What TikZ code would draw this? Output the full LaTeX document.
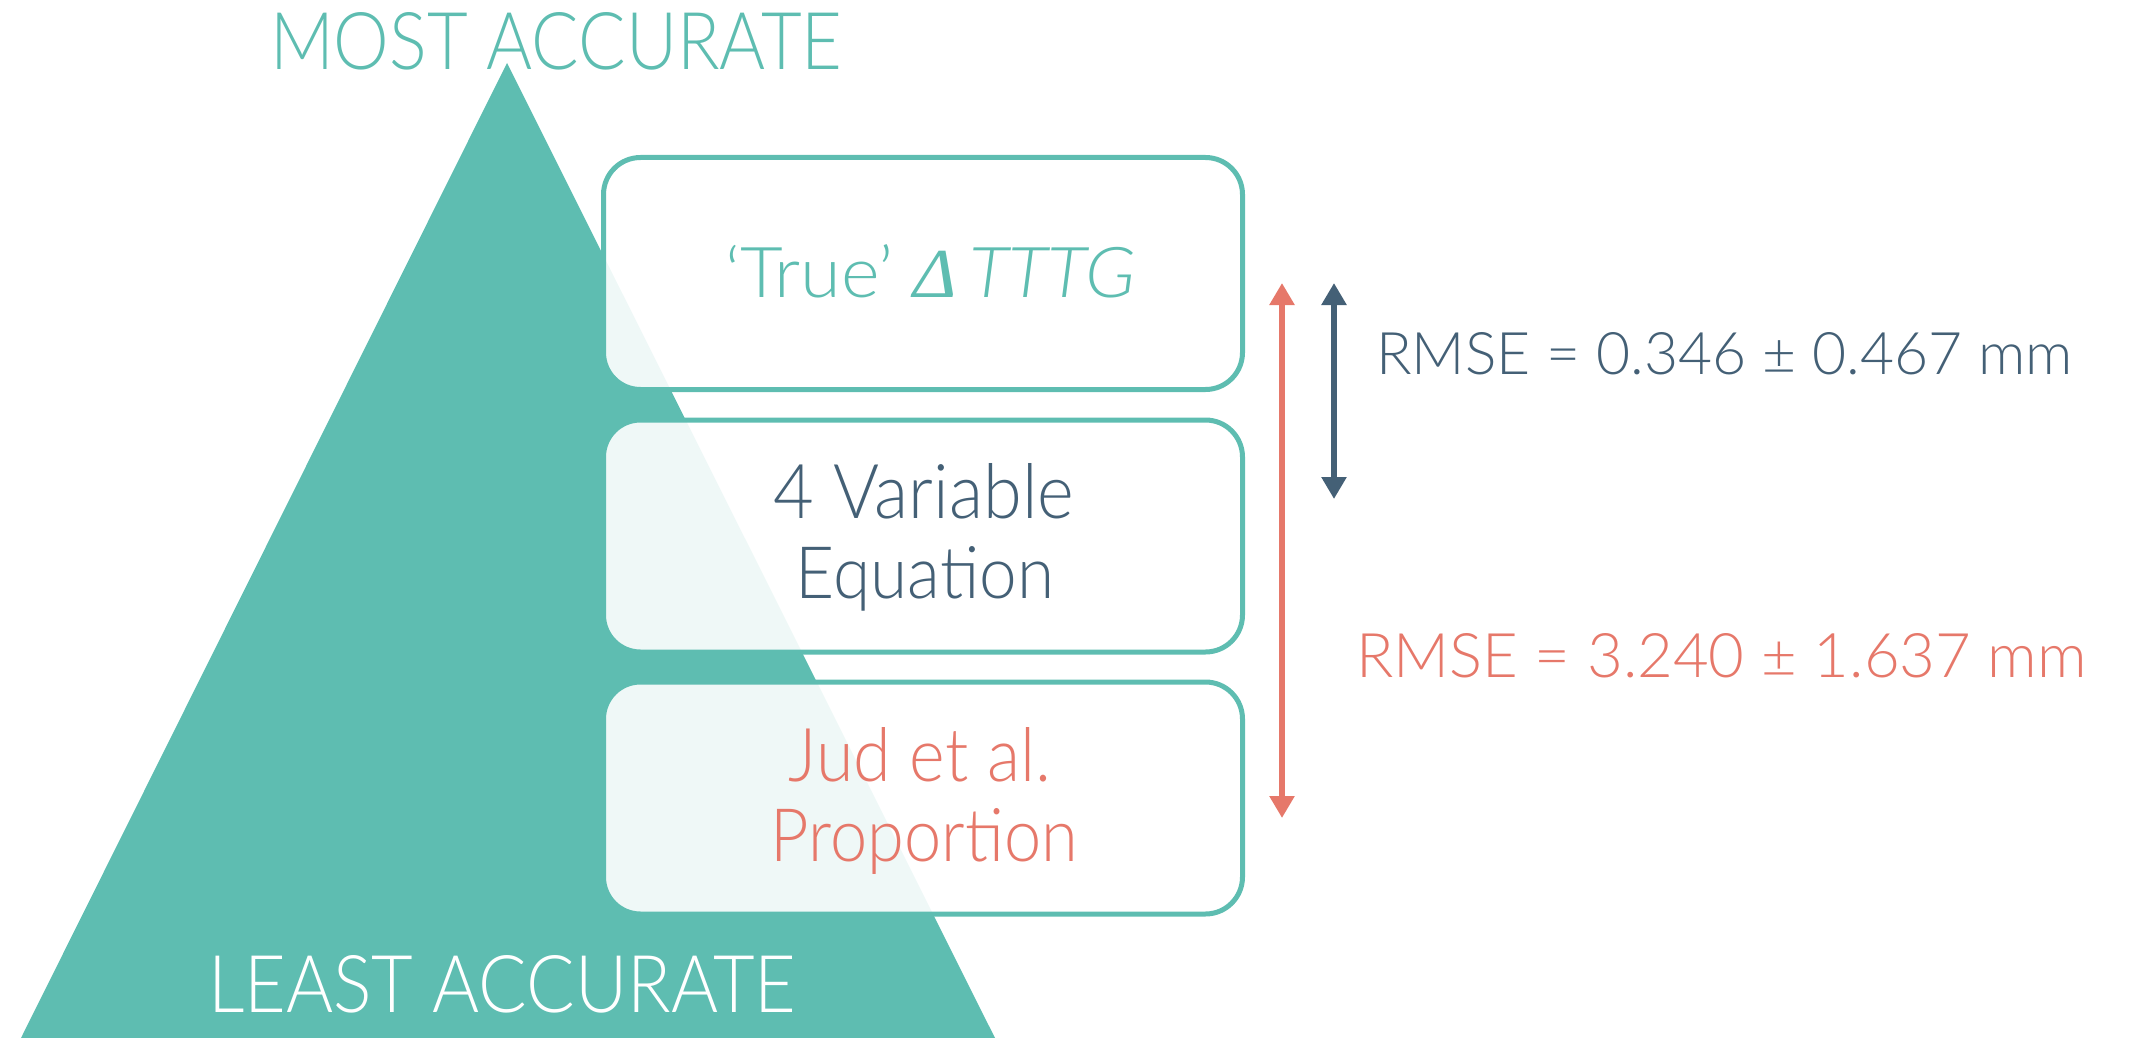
\documentclass[tikz,border=0pt]{standalone}
\usepackage{graphicx}
\usepackage{fontspec}
\usetikzlibrary{arrows.meta}
\IfFontExistsTF{Lato Light}{\setmainfont{Lato Light}}{\setmainfont{Lato}}
\IfFontExistsTF{Lato Light Italic}{\newfontfamily\itfont{Lato Light Italic}}{\newfontfamily\itfont{Lato Italic}}
\newfontfamily\deltafont{Liberation Serif Italic}
\definecolor{tealc}{RGB}{94,189,177}
\definecolor{darkc}{RGB}{68,96,118}
\definecolor{redc}{RGB}{230,120,106}
\newcommand\fitto[3]{\resizebox{#1}{#2}{#3}}
\tikzset{
  box/.style={draw=tealc, line width=5pt, fill=white, fill opacity=0.9, text opacity=1,
    rounded corners=37pt, minimum width=639pt, minimum height=232pt, inner sep=0pt},
  txt/.style={inner sep=0pt, outer sep=0pt},
  dblarrow/.style={line width=6pt, {Triangle[width=24pt,length=22pt]}-{Triangle[width=24pt,length=22pt]}},
}
\begin{document}
\begin{tikzpicture}[x=1pt,y=-1pt]
\useasboundingbox (0,0) rectangle (2145,1038);
% pyramid
\fill[tealc] (507,63) -- (21,1038) -- (995,1038) -- cycle;
% boxes
\node[box] (b1) at (923,273.5) {};
\node[box] (b2) at (923,536) {};
\node[box] (b3) at (923,798) {};
% labels of pyramid
\node[txt, anchor=base west, text=tealc] (most) at (270,70) {\fitto{572pt}{57pt}{MOST ACCURATE}};
\node[txt, anchor=base west, text=white] (least) at (208,1012) {\fitto{588pt}{57pt}{LEAST ACCURATE}};
% box texts
\node[txt, anchor=base, text=tealc] (t1) at (930.5,297) {\fitto{410pt}{53pt}{`True' {\deltafont Δ}\,{\itfont TTTG}}};
\node[txt, anchor=base, text=darkc] (t2a) at (924,518) {\fitto{300pt}{55pt}{4 Variable}};
\node[txt, anchor=base, text=darkc] (t2b) at (925,598) {\fitto{258pt}{52pt}{Equation}};
\node[txt, anchor=base, text=redc] (t3a) at (920,781) {\fitto{262pt}{54pt}{Jud et al.}};
\node[txt, anchor=base, text=redc] (t3b) at (924.5,861) {\fitto{307pt}{53pt}{Proportion}};
% arrows
\coordinate (rtop) at (1282,283);
\coordinate (rbot) at (1282,818);
\coordinate (dtop) at (1334,283);
\coordinate (dbot) at (1334,499);
\draw[dblarrow, redc] (rtop) -- (rbot);
\draw[dblarrow, darkc] (dtop) -- (dbot);
% RMSE labels
\node[txt, anchor=base west, text=darkc] (rmse1) at (1376,374) {\fitto{697pt}{42pt}{RMSE = 0.346 ± 0.467 mm}};
\node[txt, anchor=base west, text=redc] (rmse2) at (1356,677) {\fitto{731pt}{44pt}{RMSE = 3.240 ± 1.637 mm}};
\end{tikzpicture}
\end{document}
